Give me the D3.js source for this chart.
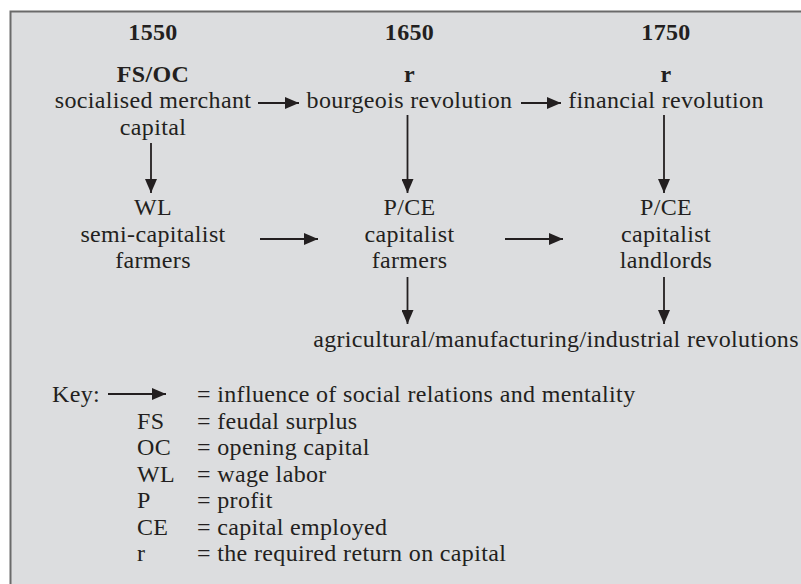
<!DOCTYPE html>
<html><head><meta charset="utf-8">
<script src="https://cdn.jsdelivr.net/npm/d3@7"></script>
<style>
html,body{margin:0;padding:0;background:#fff;}
svg{display:block;}
text{font-family:"Liberation Serif","Times New Roman",serif;fill:#231f20;letter-spacing:0.35px;}
</style></head>
<body>
<script>
// ---- data ----
const years = ["1550", "1650", "1750"];
const topHeaders = ["FS/OC", "r", "r"];
const topLines = [["socialised merchant", "capital"], ["bourgeois revolution"], ["financial revolution"]];
const midHeaders = ["WL", "P/CE", "P/CE"];
const midLines = [["semi-capitalist", "farmers"], ["capitalist", "farmers"], ["capitalist", "landlords"]];
const bottomLabel = "agricultural/manufacturing/industrial revolutions";
const keyArrowLabel = "= influence of social relations and mentality";
const keySymbols = ["FS", "OC", "WL", "P", "CE", "r"];
const keyMeanings = ["= feudal surplus", "= opening capital", "= wage labor", "= profit", "= capital employed", "= the required return on capital"];
// arrows: [from column, to column, row]
const horizArrows = [["1550", "1650", "top"], ["1650", "1750", "top"], ["1550", "1650", "mid"], ["1650", "1750", "mid"]];
const vertArrows = [["1550", "top"], ["1650", "top"], ["1750", "top"], ["1650", "mid"], ["1750", "mid"]];

// ---- layout ----
const W = 801, H = 584;
const FS = 24;
const svg = d3.select("body").append("svg").attr("width", W).attr("height", H);

svg.append("rect").attr("x", 10).attr("y", 11).attr("width", W - 10).attr("height", H - 11)
  .attr("fill", "#dcdddf");
svg.append("path").attr("d", `M10.5,${H}V11.5H${W}`).attr("fill", "none")
  .attr("stroke", "#6a6a6a").attr("stroke-width", 2);

const x = d3.scalePoint().domain(years).range([153, 666]);
const rowY = {year: 40, topHead: 82, top1: 108, top2: 135, midHead: 215, mid1: 242, mid2: 268, bottom: 347};

const defs = svg.append("defs");
defs.append("marker").attr("id", "ah").attr("viewBox", "0 0 14 12").attr("refX", 14).attr("refY", 6)
  .attr("markerUnits", "userSpaceOnUse").attr("markerWidth", 14).attr("markerHeight", 12)
  .attr("orient", "auto")
  .append("path").attr("d", "M0,0L14,6L0,12Z").attr("fill", "#231f20");

function txt(g, xx, yy, s, bold, anchor) {
  return g.append("text").attr("x", xx).attr("y", yy).attr("text-anchor", anchor || "middle")
    .attr("font-size", FS).attr("font-weight", bold ? "bold" : "normal").text(s);
}

const g = svg.append("g");
years.forEach((yr, i) => {
  const cx = x(yr);
  txt(g, cx, rowY.year, yr, true);
  txt(g, cx, rowY.topHead, topHeaders[i], true);
  topLines[i].forEach((l, j) => txt(g, cx, j === 0 ? rowY.top1 : rowY.top2, l, false));
  txt(g, cx, rowY.midHead, midHeaders[i], false);
  midLines[i].forEach((l, j) => txt(g, cx, j === 0 ? rowY.mid1 : rowY.mid2, l, false));
});
txt(g, 556, rowY.bottom, bottomLabel, false);

// horizontal arrows
const hSpec = {
  top: {y: 103, ends: {"1550-1650": [258, 299], "1650-1750": [521, 561]}},
  mid: {y: 239, ends: {"1550-1650": [260, 318], "1650-1750": [505, 563]}}
};
horizArrows.forEach(([a, b, row]) => {
  const s = hSpec[row];
  const [x1, x2] = s.ends[a + "-" + b];
  g.append("line").attr("x1", x1).attr("x2", x2).attr("y1", s.y).attr("y2", s.y)
    .attr("stroke", "#231f20").attr("stroke-width", 2).attr("marker-end", "url(#ah)");
});
// vertical arrows
vertArrows.forEach(([c, row]) => {
  const cx = x(c) - 2;
  let y1, y2;
  if (row === "top") { y1 = c === "1550" ? 143 : 115; y2 = 193; }
  else { y1 = 277; y2 = 324; }
  g.append("line").attr("x1", cx).attr("x2", cx).attr("y1", y1).attr("y2", y2)
    .attr("stroke", "#231f20").attr("stroke-width", 1.8).attr("marker-end", "url(#ah)");
});

// key
const keyY = 402, keyStep = 26.5;
txt(g, 52, keyY, "Key:", false, "start");
g.append("line").attr("x1", 108).attr("x2", 166).attr("y1", keyY - 8).attr("y2", keyY - 8)
  .attr("stroke", "#231f20").attr("stroke-width", 2).attr("marker-end", "url(#ah)");
txt(g, 197, keyY, keyArrowLabel, false, "start");
keySymbols.forEach((s, i) => {
  const yy = keyY + keyStep * (i + 1);
  txt(g, 137, yy, s, false, "start");
  txt(g, 197, yy, keyMeanings[i], false, "start");
});
</script>
</body></html>
